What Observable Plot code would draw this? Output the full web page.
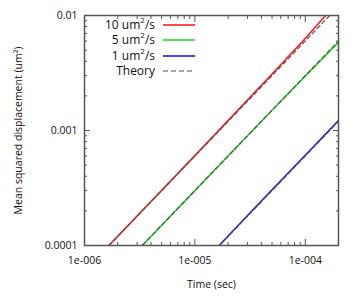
<!DOCTYPE html>
<html>
<head>
<meta charset="utf-8">
<script src="https://cdn.jsdelivr.net/npm/d3@7"></script>
<script src="https://cdn.jsdelivr.net/npm/@observablehq/plot@0.6"></script>
<style>
  html, body { margin: 0; padding: 0; background: #fff; }
  #wrap { position: relative; width: 360px; height: 300px; font-family: "Open Sans", sans-serif; }
  #legend { position: absolute; left: 0; top: 0; font-size: 12px; color: #111; }
  .row { position: absolute; left: 60px; width: 140px; height: 16px; }
  .row .lab { position: absolute; right: 45px; top: 0; white-space: nowrap; line-height: 16px; }
  .row .lab sup { font-size: 8px; line-height: 0; position: relative; top: -1px; }
  .row svg { position: absolute; left: 103px; top: 0; }
</style>
</head>
<body>
<div id="wrap"></div>
<script>
// Series labels
const seriesNames = ["10 um²/s", "5 um²/s", "1 um²/s"];
const seriesColors = ["#ff1a1a", "#1ee01e", "#1a1aee"];

// Simulated MSD (um²) vs time (sec)
const time10 = [1e-6, 1e-5, 5e-5, 1e-4, 1.5e-4, 2e-4];
const msd10 = [6.0e-5, 6.05e-4, 3.1e-3, 6.3e-3, 9.8e-3, 1.3e-2];
const time5 = [1e-6, 1e-5, 5e-5, 1e-4, 2e-4];
const msd5 = [3.0e-5, 3.0e-4, 1.5e-3, 2.97e-3, 5.85e-3];
const time1 = [1e-6, 1e-5, 5e-5, 1e-4, 2e-4];
const msd1 = [6.0e-6, 6.0e-5, 3.05e-4, 6.1e-4, 1.22e-3];

// Theory lines
const timeTheory = [1e-6, 2e-4];
const theory10 = [6e-5, 1.2e-2];
const theory5 = [3e-5, 6e-3];
const theory1 = [6e-6, 1.2e-3];

// Ticks
const xMajor = [1e-6, 1e-5, 1e-4];
const xMajorLabels = ["1e-006", "1e-005", "1e-004"];
const xMinor = [2e-6,3e-6,4e-6,5e-6,6e-6,7e-6,8e-6,9e-6,2e-5,3e-5,4e-5,5e-5,6e-5,7e-5,8e-5,9e-5];
const yMajor = [1e-4, 1e-3, 1e-2];
const yMajorLabels = ["0.0001", "0.001", "0.01"];
const yMinor = [2e-4,3e-4,4e-4,5e-4,6e-4,7e-4,8e-4,9e-4,2e-3,3e-3,4e-3,5e-3,6e-3,7e-3,8e-3,9e-3];

const sim = [
  ...time10.map((t, i) => ({t, v: msd10[i], s: seriesNames[0]})),
  ...time5.map((t, i) => ({t, v: msd5[i], s: seriesNames[1]})),
  ...time1.map((t, i) => ({t, v: msd1[i], s: seriesNames[2]}))
];
const theory = [
  ...timeTheory.map((t, i) => ({t, v: theory10[i], s: "a"})),
  ...timeTheory.map((t, i) => ({t, v: theory5[i], s: "b"})),
  ...timeTheory.map((t, i) => ({t, v: theory1[i], s: "c"}))
];

const fx = d => xMajorLabels[xMajor.indexOf(d)];
const fy = d => yMajorLabels[yMajor.indexOf(d)];
const tickColor = "#555";

const plot = Plot.plot({
  width: 360,
  height: 300,
  marginLeft: 84,
  marginRight: 22,
  marginTop: 15,
  marginBottom: 55,
  style: {fontFamily: "Open Sans, sans-serif", fontSize: "10.5px", color: "#111", background: "#fff"},
  x: {type: "log", domain: [1e-6, 2e-4]},
  y: {type: "log", domain: [1e-4, 1e-2]},
  color: {domain: seriesNames, range: seriesColors},
  marks: [
    Plot.line(sim, {x: "t", y: "v", stroke: "s", z: "s", strokeWidth: 1.6, clip: true}),
    Plot.line(theory, {x: "t", y: "v", z: "s", stroke: "#555", strokeWidth: 1.2, strokeDasharray: "4,3", clip: true}),
    // labels
    Plot.axisX({ticks: xMajor, tickSize: 0, tickPadding: 11, tickFormat: fx, label: "Time (sec)", labelAnchor: "center", labelArrow: "none", labelOffset: 42, fontSize: 10.5}),
    Plot.axisY({ticks: yMajor, tickSize: 0, tickPadding: 7, tickFormat: fy, label: "Mean squared displacement (um²)", labelAnchor: "center", labelArrow: "none", labelOffset: 70, fontSize: 10.5}),
    // inward ticks
    Plot.axisX({anchor: "bottom", ticks: xMajor, tickSize: -6, text: null, label: null, stroke: tickColor}),
    Plot.axisX({anchor: "bottom", ticks: xMinor, tickSize: -3, text: null, label: null, stroke: tickColor}),
    Plot.axisX({anchor: "top", ticks: xMajor, tickSize: -6, text: null, label: null, stroke: tickColor}),
    Plot.axisX({anchor: "top", ticks: xMinor, tickSize: -3, text: null, label: null, stroke: tickColor}),
    Plot.axisY({anchor: "left", ticks: yMajor, tickSize: -6, text: null, label: null, stroke: tickColor}),
    Plot.axisY({anchor: "left", ticks: yMinor, tickSize: -3, text: null, label: null, stroke: tickColor}),
    Plot.axisY({anchor: "right", ticks: yMajor, tickSize: -6, text: null, label: null, stroke: tickColor}),
    Plot.axisY({anchor: "right", ticks: yMinor, tickSize: -3, text: null, label: null, stroke: tickColor}),
    Plot.frame({stroke: "#555", strokeWidth: 1.5})
  ]
});

const wrap = document.getElementById("wrap");
wrap.appendChild(plot);

// legend
const legendItems = [
  {html: "10 um<sup>2</sup>/s", color: seriesColors[0], dash: null},
  {html: "5 um<sup>2</sup>/s", color: seriesColors[1], dash: null},
  {html: "1 um<sup>2</sup>/s", color: seriesColors[2], dash: null},
  {html: "Theory", color: "#888", dash: "5,3"}
];
const legend = document.createElement("div");
legend.id = "legend";
legendItems.forEach((it, i) => {
  const row = document.createElement("div");
  row.className = "row";
  row.style.top = (17 + i * 15.4) + "px";
  row.innerHTML = `<span class="lab">${it.html}</span><svg width="34" height="16"><line x1="0" x2="32" y1="8" y2="8" stroke="${it.color}" stroke-width="1.6" ${it.dash ? `stroke-dasharray="${it.dash}"` : ""}/></svg>`;
  legend.appendChild(row);
});
wrap.appendChild(legend);
</script>
</body>
</html>
